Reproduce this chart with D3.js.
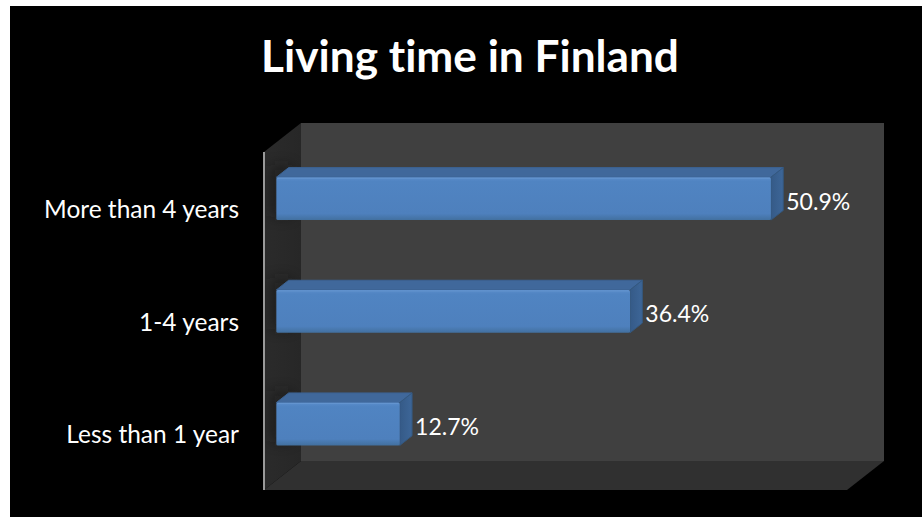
<!DOCTYPE html>
<html>
<head>
<meta charset="utf-8">
<script src="https://cdn.jsdelivr.net/npm/d3@7"></script>
<style>
  html, body { margin: 0; padding: 0; background: #ffffff; }
  svg { display: block; }
  text { font-variant-ligatures: none; font-feature-settings: "liga" 0, "clig" 0; }
</style>
</head>
<body>
<svg id="chart" width="922" height="517"></svg>
<script>
// Survey result: how long respondents have lived in Finland
const categories = ["More than 4 years", "1-4 years", "Less than 1 year"];
const shares = [50.9, 36.4, 12.7];
const valueLabels = ["50.9%", "36.4%", "12.7%"];
const axisMax = 60;
const title = "Living time in Finland";

const svg = d3.select("#chart");
const W = 922, H = 517;
const FONT = "Lato, 'Open Sans', 'DejaVu Sans', sans-serif";

// chart area background
svg.append("rect").attr("x", 10).attr("y", 6).attr("width", W - 10).attr("height", H - 6).attr("fill", "#000");

// 3-D box: front plane + depth vector
const depth = { x: 37, y: -29 };
const front = { left: 264, right: 847, top: 152, bottom: 490 };

const x = d3.scaleLinear().domain([0, axisMax]).range([front.left, front.right]);
const y = d3.scaleBand().domain(categories)
  .range([front.top, front.bottom])
  .paddingInner(0.62).paddingOuter(0.31);

const defs = svg.append("defs");

// gradients
const wallShade = defs.append("linearGradient").attr("id", "leftWall").attr("x1", 0).attr("x2", 1).attr("y1", 0).attr("y2", 0);
wallShade.append("stop").attr("offset", 0).attr("stop-color", "#2b2b2b");
wallShade.append("stop").attr("offset", 1).attr("stop-color", "#272727");

const frontGrad = defs.append("linearGradient").attr("id", "barFront").attr("x1", 0).attr("x2", 0).attr("y1", 0).attr("y2", 1);
frontGrad.append("stop").attr("offset", 0).attr("stop-color", "#5a8cca");
frontGrad.append("stop").attr("offset", 0.1).attr("stop-color", "#5084c2");
frontGrad.append("stop").attr("offset", 0.85).attr("stop-color", "#4e80bd");
frontGrad.append("stop").attr("offset", 1).attr("stop-color", "#42709f");

const sideGrad = defs.append("linearGradient").attr("id", "barSide").attr("x1", 0).attr("x2", 1).attr("y1", 0).attr("y2", 0);
sideGrad.append("stop").attr("offset", 0).attr("stop-color", "#355a87");
sideGrad.append("stop").attr("offset", 1).attr("stop-color", "#3d6698");

const blur = defs.append("filter").attr("id", "soft").attr("x", "-50%").attr("y", "-50%").attr("width", "200%").attr("height", "200%");
blur.append("feGaussianBlur").attr("stdDeviation", 7);

const pts = a => a.map(p => p.join(",")).join(" ");
const fl = front.left, fr = front.right, ft = front.top, fb = front.bottom;
const dx = depth.x, dy = depth.y;

// left wall
const leftWallPts = [[fl, ft], [fl + dx, ft + dy], [fl + dx, fb + dy], [fl, fb]];
svg.append("polygon").attr("points", pts(leftWallPts)).attr("fill", "url(#leftWall)");
// back wall
svg.append("polygon")
  .attr("points", pts([[fl + dx, ft + dy], [fr + dx, ft + dy], [fr + dx, fb + dy], [fl + dx, fb + dy]]))
  .attr("fill", "#404040");
// floor
svg.append("polygon")
  .attr("points", pts([[fl, fb], [fr, fb], [fr + dx, fb + dy], [fl + dx, fb + dy]]))
  .attr("fill", "#303030");

// bar shadows on the left wall
defs.append("clipPath").attr("id", "wallClip")
  .append("polygon").attr("points", pts(leftWallPts));

const d0 = 1 / 3, d1 = 2 / 3;  // bar depth slot inside the box
const bw = y.bandwidth();
const bars = categories.map((c, i) => {
  const fx0 = x(0) + dx * d0, fx1 = x(shares[i]) + dx * d0;
  const fy0 = y(c) + dy * d0, fy1 = fy0 + bw;
  return { c, v: shares[i], label: valueLabels[i], fx0, fx1, fy0, fy1 };
});
const bdx = dx * (d1 - d0), bdy = dy * (d1 - d0);

svg.append("g").attr("clip-path", "url(#wallClip)")
  .selectAll("rect").data(bars).join("rect")
  .attr("x", d => d.fx0 - 6)
  .attr("y", d => d.fy0 + bdy - 2)
  .attr("width", 22)
  .attr("height", bw + 8)
  .attr("fill", "#141414").attr("opacity", 0.45)
  .attr("filter", "url(#soft)");

// axis line
svg.append("line")
  .attr("x1", fl).attr("x2", fl).attr("y1", ft).attr("y2", fb)
  .attr("stroke", "#9a9a9a").attr("stroke-width", 2);

// bars
const g = svg.append("g");
bars.forEach(b => {
  // top face
  g.append("polygon")
    .attr("points", pts([[b.fx0, b.fy0], [b.fx1, b.fy0], [b.fx1 + bdx, b.fy0 + bdy], [b.fx0 + bdx, b.fy0 + bdy]]))
    .attr("fill", "#40689b").attr("stroke", "#3b6292").attr("stroke-width", 1).attr("stroke-linejoin", "round");
  // right face
  g.append("polygon")
    .attr("points", pts([[b.fx1, b.fy0], [b.fx1 + bdx, b.fy0 + bdy], [b.fx1 + bdx, b.fy1 + bdy], [b.fx1, b.fy1]]))
    .attr("fill", "url(#barSide)").attr("stroke", "#34587f").attr("stroke-width", 1).attr("stroke-linejoin", "round");
  // front face
  g.append("rect")
    .attr("x", b.fx0).attr("y", b.fy0)
    .attr("width", b.fx1 - b.fx0).attr("height", bw)
    .attr("rx", 1.5)
    .attr("fill", "url(#barFront)");
  // highlight along the top edge
  g.append("line")
    .attr("x1", b.fx0 + 1).attr("x2", b.fx1 - 1)
    .attr("y1", b.fy0 + 1).attr("y2", b.fy0 + 1)
    .attr("stroke", "#6a9ad3").attr("stroke-width", 1).attr("opacity", 0.7);
});

// size a group of texts so its reference string spans the given width
function fitSize(text, weight, targetWidth) {
  const t = svg.append("text").attr("font-family", FONT).attr("font-weight", weight)
    .attr("font-size", 100).text(text);
  const w = t.node().getComputedTextLength();
  t.remove();
  return 100 * targetWidth / w;
}

// title
svg.append("text")
  .attr("x", 470).attr("y", 72)
  .attr("text-anchor", "middle")
  .attr("font-family", FONT).attr("font-weight", 700)
  .attr("font-size", fitSize(title, 700, 418))
  .attr("fill", "#fff")
  .text(title);

// category labels
const catSize = fitSize(categories[0], 400, 195);
svg.append("g").selectAll("text").data(categories).join("text")
  .attr("x", 239)
  .attr("y", c => y(c) + bw / 2 + 9.7)
  .attr("text-anchor", "end")
  .attr("font-family", FONT).attr("font-size", catSize)
  .attr("fill", "#fff")
  .text(c => c);

// value labels
const valSize = fitSize(valueLabels[0], 400, 64);
svg.append("g").selectAll("text").data(bars).join("text")
  .attr("x", b => b.fx1 + bdx + 3)
  .attr("y", b => (b.fy0 + b.fy1) / 2 + 11)
  .attr("font-family", FONT).attr("font-size", valSize)
  .attr("fill", "#fff")
  .text(b => b.label);
</script>
</body>
</html>
